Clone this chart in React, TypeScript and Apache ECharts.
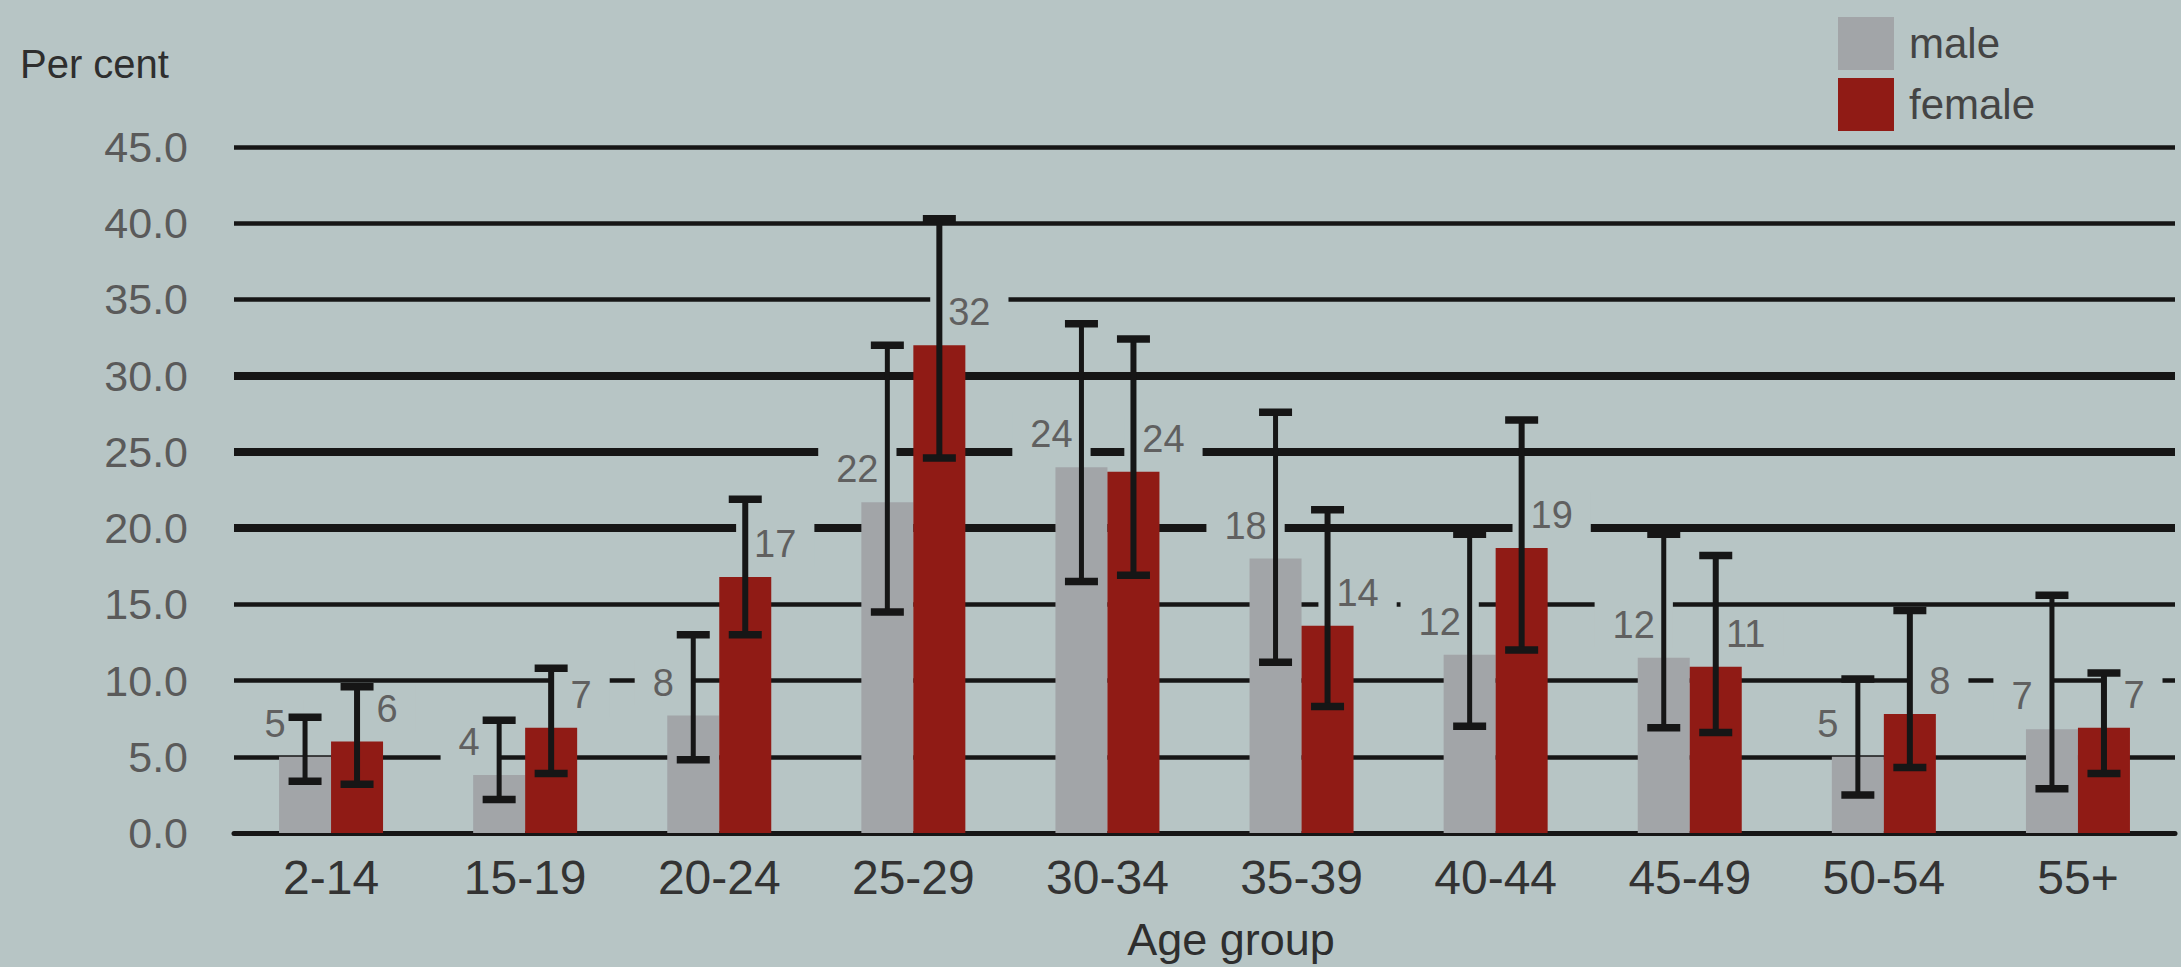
import React, { useEffect, useRef } from "react";
import * as echarts from "echarts";

const categories = ["2-14", "15-19", "20-24", "25-29", "30-34", "35-39", "40-44", "45-49", "50-54", "55+"];
const maleValues = [5.0, 3.8, 7.7, 21.7, 24.0, 18.0, 11.7, 11.5, 5.0, 6.8];
const femaleValues = [6.0, 6.9, 16.8, 32.0, 23.7, 13.6, 18.7, 10.9, 7.8, 6.9];
const maleLabels = [5, 4, 8, 22, 24, 18, 12, 12, 5, 7];
const femaleLabels = [6, 7, 17, 32, 24, 14, 19, 11, 8, 7];
const maleLow = [3.4, 2.2, 4.8, 14.5, 16.5, 11.2, 7.0, 6.9, 2.5, 2.9];
const maleHigh = [7.6, 7.4, 13.0, 32.0, 33.4, 27.6, 19.6, 19.6, 10.1, 15.6];
const femaleLow = [3.2, 3.9, 13.0, 24.6, 16.9, 8.3, 12.0, 6.6, 4.3, 3.9];
const femaleHigh = [9.6, 10.8, 21.9, 40.3, 32.4, 21.2, 27.1, 18.2, 14.6, 10.5];
const yMin = 0;
const yMax = 45;
const yStep = 5;
const thickLineValues = [20, 25, 30];

const BG = "#b7c5c5";
const MALE = "#a2a5a8";
const FEMALE = "#901b15";
const INK = "#161616";
const FONT = "Liberation Sans";
const BAR_W = 52;
const CAP = 33;

function errorSeries(name: string, low: number[], high: number[], offset: number, lw: number) {
  return {
    type: "custom",
    name,
    z: 10,
    silent: true,
    data: categories.map((_, i) => [i, low[i], high[i]]),
    encode: { x: 0, y: [1, 2] },
    renderItem: (params: any, api: any) => {
      const lo = api.coord([api.value(0), api.value(1)]);
      const hi = api.coord([api.value(0), api.value(2)]);
      const x = lo[0] + offset;
      return {
        type: "group",
        children: [
          { type: "line", shape: { x1: x, y1: hi[1], x2: x, y2: lo[1] }, style: { stroke: INK, lineWidth: lw } },
          { type: "line", shape: { x1: x - CAP / 2, y1: hi[1], x2: x + CAP / 2, y2: hi[1] }, style: { stroke: INK, lineWidth: 7.5 } },
          { type: "line", shape: { x1: x - CAP / 2, y1: lo[1], x2: x + CAP / 2, y2: lo[1] }, style: { stroke: INK, lineWidth: 7.5 } },
        ],
      };
    },
  };
}

export default function App() {
  const ref = useRef<HTMLDivElement>(null);
  useEffect(() => {
    if (!ref.current) return;
    const chart = echarts.init(ref.current, undefined, { renderer: "svg" });
    const nLines = Math.round((yMax - yMin) / yStep) + 1;
    const thickColors = Array.from({ length: nLines }, (_, i) =>
      thickLineValues.includes(yMin + i * yStep) ? INK : "rgba(0,0,0,0)"
    );
    const labelBase = {
      show: true,
      fontSize: 38,
      fontFamily: FONT,
      color: "#606060",
      align: "center",
      verticalAlign: "middle",
      backgroundColor: BG,
      padding: [4, 18],
    };
    chart.setOption({
      animation: false,
      backgroundColor: BG,
      textStyle: { fontFamily: FONT },
      grid: { left: 234, top: 147, width: 1941, height: 686 },
      legend: {
        data: ["male", "female"],
        orient: "vertical",
        left: 1833,
        top: 12,
        itemWidth: 56,
        itemHeight: 53,
        itemGap: 8,
        icon: "rect",
        selectedMode: false,
        textStyle: { fontSize: 42, color: "#444", fontFamily: FONT, padding: [0, 0, 0, 10] },
      },
      graphic: [
        { type: "text", x: 20, y: 64, style: { text: "Per cent", fontSize: 40, fontFamily: FONT, fill: "#2e2e2e", verticalAlign: "middle" } },
        { type: "text", x: 1231, y: 939, style: { text: "Age group", fontSize: 45, fontFamily: FONT, fill: "#2e2e2e", align: "center", verticalAlign: "middle" } },
      ],
      xAxis: {
        type: "category",
        data: categories,
        axisLine: { show: true, lineStyle: { color: INK, width: 5 } },
        axisTick: { show: false },
        axisLabel: { fontSize: 48, color: "#333", fontFamily: FONT, margin: 20 },
      },
      yAxis: [
        {
          type: "value",
          min: yMin,
          max: yMax,
          interval: yStep,
          axisLine: { show: false },
          axisTick: { show: false },
          axisLabel: { fontSize: 43, color: "#5a5a5a", fontFamily: FONT, margin: 46, formatter: (v: number) => v.toFixed(1) },
          splitLine: { show: true, lineStyle: { color: INK, width: 4.5 } },
        },
        {
          type: "value",
          min: yMin,
          max: yMax,
          interval: yStep,
          axisLine: { show: false },
          axisTick: { show: false },
          axisLabel: { show: false },
          splitLine: { show: true, lineStyle: { color: thickColors, width: 8 } },
        },
      ],
      series: [
        {
          type: "bar",
          name: "male",
          data: maleValues,
          barWidth: BAR_W,
          barGap: "0%",
          itemStyle: { color: MALE },
          label: { ...labelBase, position: [-4, -33], formatter: (p: any) => String(maleLabels[p.dataIndex]) },
        },
        {
          type: "bar",
          name: "female",
          data: femaleValues,
          barWidth: BAR_W,
          barGap: "0%",
          itemStyle: { color: FEMALE },
          label: { ...labelBase, position: [BAR_W + 4, -33], formatter: (p: any) => String(femaleLabels[p.dataIndex]) },
        },
        errorSeries("male error", maleLow, maleHigh, -BAR_W / 2, 5),
        errorSeries("female error", femaleLow, femaleHigh, BAR_W / 2, 6),
      ],
    });
    return () => chart.dispose();
  }, []);
  return <div ref={ref} style={{ position: "fixed", left: 0, top: 0, width: 2181, height: 967 }} />;
}
